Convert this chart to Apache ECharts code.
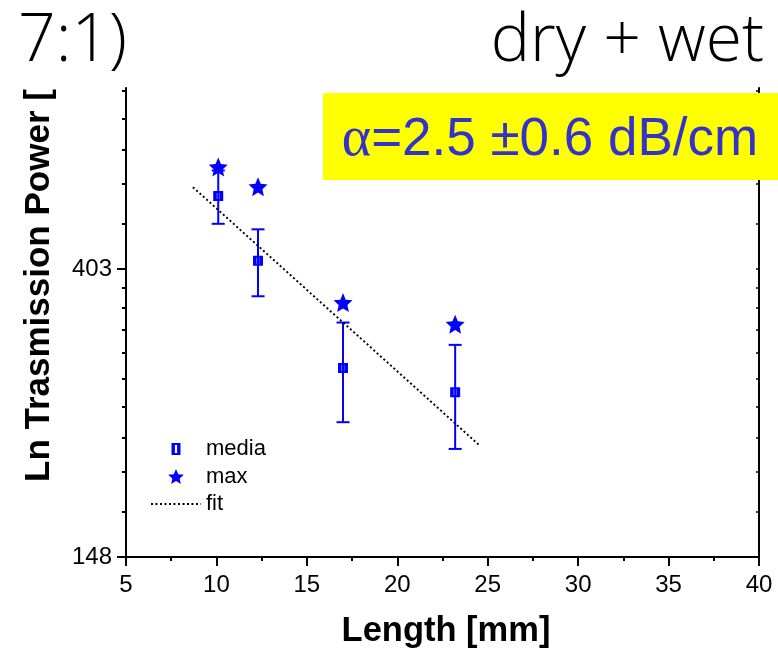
<!DOCTYPE html>
<html>
<head>
<meta charset="utf-8">
<title>Ln Trasmission Power vs Length</title>
<script src="https://cdn.jsdelivr.net/npm/echarts@6/dist/echarts.min.js"></script>
<style>
  html, body { margin: 0; padding: 0; background: #fff; }
  #chart { width: 778px; height: 652px; }
</style>
</head>
<body>
<div id="chart"></div>
<script>
// Sample lengths (mm)
const lengths = [10.1, 12.3, 17.0, 23.2];
// Mean transmitted power and its spread
const mediaValues = [520, 415, 286, 263];
const mediaErrors = [48, 48, 49, 47];
// Maximum transmitted power
const maxValues = [575, 537, 359, 333];
// Exponential fit, end points (alpha = 2.5 dB/cm)
const fitLengths = [8.7, 24.6];
const fitValues = [536, 218];

// Axis ticks
const xTicks = [5, 10, 15, 20, 25, 30, 35, 40];
const yMajorLn = [5, 6];
const yTickLabels = ['148', '403'];

const BLUE = '#0000ff';
const SANS = '"Liberation Sans", Arial, sans-serif';
const yMin = 5, yMax = 6.6285;

// minor ticks: each e-fold split into ten linear steps
const yMinorLn = [];
yMajorLn.forEach(function (k) {
  const a = Math.exp(k), b = Math.exp(k + 1);
  for (let i = 1; i < 10; i++) {
    const v = Math.log(a + (b - a) * i / 10);
    if (v <= yMax) yMinorLn.push(v);
  }
});

const ln = Math.log;
const mediaData = lengths.map((x, i) => [x, ln(mediaValues[i])]);
const errData = lengths.map((x, i) => [x, ln(mediaValues[i] - mediaErrors[i]), ln(mediaValues[i] + mediaErrors[i])]);
const maxData = lengths.map((x, i) => [x, ln(maxValues[i])]);
const fitData = fitLengths.map((x, i) => [x, ln(fitValues[i])]);

// five-pointed star marker
function starPath(inner) {
  const pts = [];
  for (let i = 0; i < 10; i++) {
    const r = i % 2 ? 50 * inner : 50;
    const a = -Math.PI / 2 + i * Math.PI / 5;
    pts.push((50 + r * Math.cos(a)).toFixed(2) + ',' + (50 + r * Math.sin(a)).toFixed(2));
  }
  return 'path://M' + pts.join(' L') + ' Z';
}
const STAR = starPath(0.46);
// square marker with a narrow open slit
const SQUARE = 'path://M0,0 L10,0 L10,10 L0,10 Z M3.6,2 L3.6,8 L6.2,8 L6.2,2 Z';
// same square for the legend, padded so it keeps a smaller size in the icon box
const SQUARE_KEY = 'path://M-2,-1.5 M11,13.5 M0,0 L9,0 L9,12 L0,12 Z M3.4,2 L3.4,10 L5.6,10 L5.6,2 Z';

const axisLineStyle = { color: '#000', width: 2 };

const chart = echarts.init(document.getElementById('chart'), null, { renderer: 'canvas' });

chart.setOption({
  backgroundColor: '#fff',
  animation: false,
  grid: { left: 126, top: 88, width: 633, height: 469 },
  legend: {
    orient: 'vertical',
    left: 145,
    top: 433,
    itemWidth: 50,
    itemHeight: 15,
    itemGap: 5.5,
    symbolKeepAspect: true,
    textStyle: { fontFamily: SANS, fontSize: 22, color: '#000' },
    data: [
      { name: 'media', icon: SQUARE_KEY },
      { name: 'max', icon: STAR },
      { name: 'fit', itemStyle: { opacity: 0 } }
    ]
  },
  xAxis: {
    type: 'value',
    min: 5,
    max: 40,
    interval: 5,
    splitLine: { show: false },
    axisLine: { lineStyle: axisLineStyle },
    axisTick: { length: 9, lineStyle: { color: '#000', width: 2 } },
    minorTick: { show: true, splitNumber: 2, length: 4, lineStyle: { color: '#000', width: 2 } },
    axisLabel: {
      color: '#000', fontFamily: SANS, fontSize: 24, margin: 16,
      customValues: xTicks,
      formatter: v => String(v)
    }
  },
  yAxis: [
    {
      type: 'value', position: 'left', min: yMin, max: yMax,
      splitLine: { show: false },
      axisLine: { lineStyle: axisLineStyle },
      axisTick: { customValues: yMajorLn, length: 9, lineStyle: { color: '#000', width: 2 } },
      axisLabel: {
        customValues: yMajorLn,
        color: '#000', fontFamily: SANS, fontSize: 24, margin: 14,
        formatter: v => yTickLabels[yMajorLn.indexOf(Math.round(v))]
      }
    },
    {
      type: 'value', position: 'left', min: yMin, max: yMax,
      splitLine: { show: false },
      axisLine: { show: false },
      axisTick: { customValues: yMinorLn, length: 4, lineStyle: { color: '#000', width: 2 } },
      axisLabel: { show: false }
    },
    {
      type: 'value', position: 'right', min: yMin, max: yMax,
      splitLine: { show: false },
      axisLine: { lineStyle: axisLineStyle },
      axisTick: { customValues: yMinorLn.concat(yMajorLn), inside: true, length: 3, lineStyle: { color: '#000', width: 1.5 } },
      axisLabel: { show: false }
    }
  ],
  series: [
    {
      name: 'err',
      type: 'custom',
      data: errData,
      encode: { x: 0, y: [1, 2] },
      z: 2,
      renderItem: function (params, api) {
        const x = api.value(0);
        const lo = api.coord([x, api.value(1)]);
        const hi = api.coord([x, api.value(2)]);
        const cap = 6.5;
        const st = { stroke: BLUE, lineWidth: 2 };
        return {
          type: 'group',
          children: [
            { type: 'line', shape: { x1: lo[0], y1: lo[1], x2: hi[0], y2: hi[1] }, style: st },
            { type: 'line', shape: { x1: lo[0] - cap, y1: lo[1], x2: lo[0] + cap, y2: lo[1] }, style: st },
            { type: 'line', shape: { x1: hi[0] - cap, y1: hi[1], x2: hi[0] + cap, y2: hi[1] }, style: st }
          ]
        };
      }
    },
    {
      name: 'fit',
      type: 'line',
      data: fitData,
      symbol: 'none',
      z: 3,
      lineStyle: { color: '#000', width: 1.9, type: [2, 2.5] },
      itemStyle: { color: '#000' }
    },
    {
      name: 'media',
      type: 'scatter',
      data: mediaData,
      symbol: SQUARE,
      symbolSize: [10, 10],
      z: 4,
      itemStyle: { color: BLUE, opacity: 1 }
    },
    {
      name: 'max',
      type: 'scatter',
      data: maxData,
      symbol: STAR,
      symbolSize: 19,
      z: 4,
      itemStyle: { color: BLUE, opacity: 1 }
    }
  ],
  graphic: [
    {
      type: 'text', x: 18, y: 42, z: 100,
      style: { text: '7:1)', fill: '#000', font: '300 66px "Open Sans", Roboto, sans-serif', textAlign: 'left', textVerticalAlign: 'middle' }
    },
    {
      type: 'text', x: 764, y: 42, z: 100,
      style: { text: 'dry + wet', fill: '#000', font: '300 66px "Open Sans", Roboto, sans-serif', textAlign: 'right', textVerticalAlign: 'middle' }
    },
    {
      type: 'rect', z: 100,
      shape: { x: 323, y: 93, width: 455, height: 87 },
      style: { fill: '#ffff00' }
    },
    {
      type: 'text', x: 550, y: 140, z: 101,
      style: {
        text: '{a|α}=2.5 ±0.6 dB/cm',
        fill: '#3333cc',
        font: '53px "Liberation Sans", Arial, sans-serif',
        textAlign: 'center', textVerticalAlign: 'middle',
        rich: {
          a: { fontFamily: '"Liberation Serif", "Times New Roman", serif', fontSize: 56, fill: '#3333cc' }
        }
      }
    },
    {
      type: 'text', x: 39, y: 482, rotation: Math.PI / 2, z: 100,
      style: { text: 'Ln Trasmission Power [', fill: '#000', font: 'bold 35px "Liberation Sans", Arial, sans-serif', textAlign: 'left', textVerticalAlign: 'middle' }
    },
    {
      type: 'text', x: 446, y: 631, z: 100,
      style: { text: 'Length [mm]', fill: '#000', font: 'bold 34.5px "Liberation Sans", Arial, sans-serif', textAlign: 'center', textVerticalAlign: 'middle' }
    }
  ]
});
</script>
</body>
</html>
